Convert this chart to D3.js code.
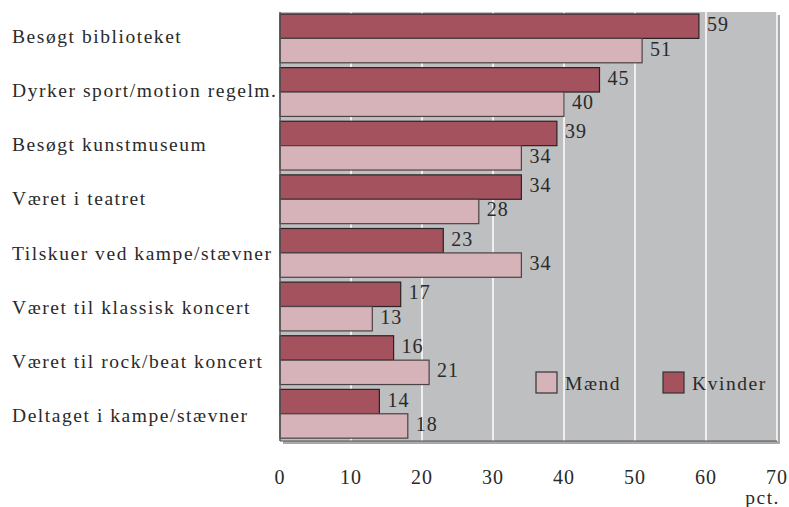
<!DOCTYPE html>
<html>
<head>
<meta charset="utf-8">
<script src="https://cdn.jsdelivr.net/npm/d3@7"></script>
<style>
  body { margin: 0; background: #fff; }
  text { font-family: "Liberation Serif", "Times New Roman", serif; fill: #2a2a2a; }
</style>
</head>
<body>
<svg id="chart" width="789" height="507"></svg>
<script>
// data
var categories = ["Besøgt biblioteket", "Dyrker sport/motion regelm.", "Besøgt kunstmuseum",
    "Været i teatret", "Tilskuer ved kampe/stævner", "Været til klassisk koncert",
    "Været til rock/beat koncert", "Deltaget i kampe/stævner"];
var kvinder = [59, 45, 39, 34, 23, 17, 16, 14];
var maend = [51, 40, 34, 28, 34, 13, 21, 18];
var xTicks = [0, 10, 20, 30, 40, 50, 60, 70];

var svg = d3.select("#chart"),
    margin = { top: 12, left: 280, right: 12, bottom: 66 },
    width = 777 - margin.left,
    height = 441 - margin.top;

var g = svg.append("g").attr("transform", "translate(" + margin.left + "," + margin.top + ")");

var x = d3.scaleLinear().domain([0, 70]).range([0, width]);
var y = d3.scaleBand().domain(categories).range([0, height]);
// label baselines spread a little wider than the bars
var yLabel = d3.scalePoint().domain(categories).range([43, 422]);

var kColor = "#a5525f", mColor = "#d6b3b8";

// shadow + background
g.append("rect").attr("x", 3).attr("y", 3).attr("width", width).attr("height", height).attr("fill", "#a9a9ab");
g.append("rect").attr("width", width).attr("height", height).attr("fill", "#bebfc1");

// grid
g.selectAll(".grid").data(xTicks.slice(1)).enter().append("line")
    .attr("x1", d => x(d)).attr("x2", d => x(d))
    .attr("y1", 0).attr("y2", height)
    .attr("stroke", "#fff").attr("stroke-width", 1.5);

var barH = 24.4, off = 2;

var rows = categories.map((c, i) => ({ cat: c, k: kvinder[i], m: maend[i] }));

var grp = g.selectAll(".row").data(rows).enter().append("g")
    .attr("transform", d => "translate(0," + y(d.cat) + ")");

grp.append("rect").attr("x", 0).attr("y", off)
    .attr("width", d => x(d.k)).attr("height", barH)
    .attr("fill", kColor).attr("stroke", "#2b2224").attr("stroke-width", 1.2);
grp.append("rect").attr("x", 0).attr("y", off + barH)
    .attr("width", d => x(d.m)).attr("height", barH)
    .attr("fill", mColor).attr("stroke", "#4a4244").attr("stroke-width", 1.2);

grp.append("text").attr("x", d => x(d.k) + 8).attr("y", off + barH / 2 - 2)
    .attr("dy", "0.35em").style("font-size", "20px").style("letter-spacing", "1px").text(d => d.k);
grp.append("text").attr("x", d => x(d.m) + 8).attr("y", off + barH * 1.5 - 2)
    .attr("dy", "0.35em").style("font-size", "20px").style("letter-spacing", "1px").text(d => d.m);

// category labels
svg.selectAll(".cat").data(categories).enter().append("text")
    .attr("x", 12).attr("y", d => yLabel(d))
    .style("font-size", "19.5px").style("letter-spacing", "1.55px")
    .text(d => d);

// axis lines
g.append("line").attr("x1", 0).attr("x2", 0).attr("y1", 0).attr("y2", height)
    .attr("stroke", "#555").attr("stroke-width", 1.5);
g.append("line").attr("x1", 0).attr("x2", width).attr("y1", height).attr("y2", height)
    .attr("stroke", "#555").attr("stroke-width", 1.2);

// x tick labels
g.selectAll(".tick").data(xTicks).enter().append("text")
    .attr("x", d => x(d)).attr("y", height + 43)
    .attr("text-anchor", "middle").style("font-size", "20px").style("letter-spacing", "1px")
    .text(d => d);
g.append("text").attr("x", width + 3).attr("y", height + 63)
    .attr("text-anchor", "end").style("font-size", "19.5px").style("letter-spacing", "1.5px").text("pct.");

// legend
var legend = [{ name: "Mænd", color: mColor, x: 536 }, { name: "Kvinder", color: kColor, x: 663 }];
var lg = svg.selectAll(".legend").data(legend).enter().append("g")
    .attr("transform", d => "translate(" + d.x + ",372)");
lg.append("rect").attr("width", 21).attr("height", 21)
    .attr("fill", d => d.color).attr("stroke", "#333").attr("stroke-width", 1.2);
lg.append("text").attr("x", 29).attr("y", 11).attr("dy", "0.35em")
    .style("font-size", "19.5px").style("letter-spacing", "1.55px").text(d => d.name);
</script>
</body>
</html>
